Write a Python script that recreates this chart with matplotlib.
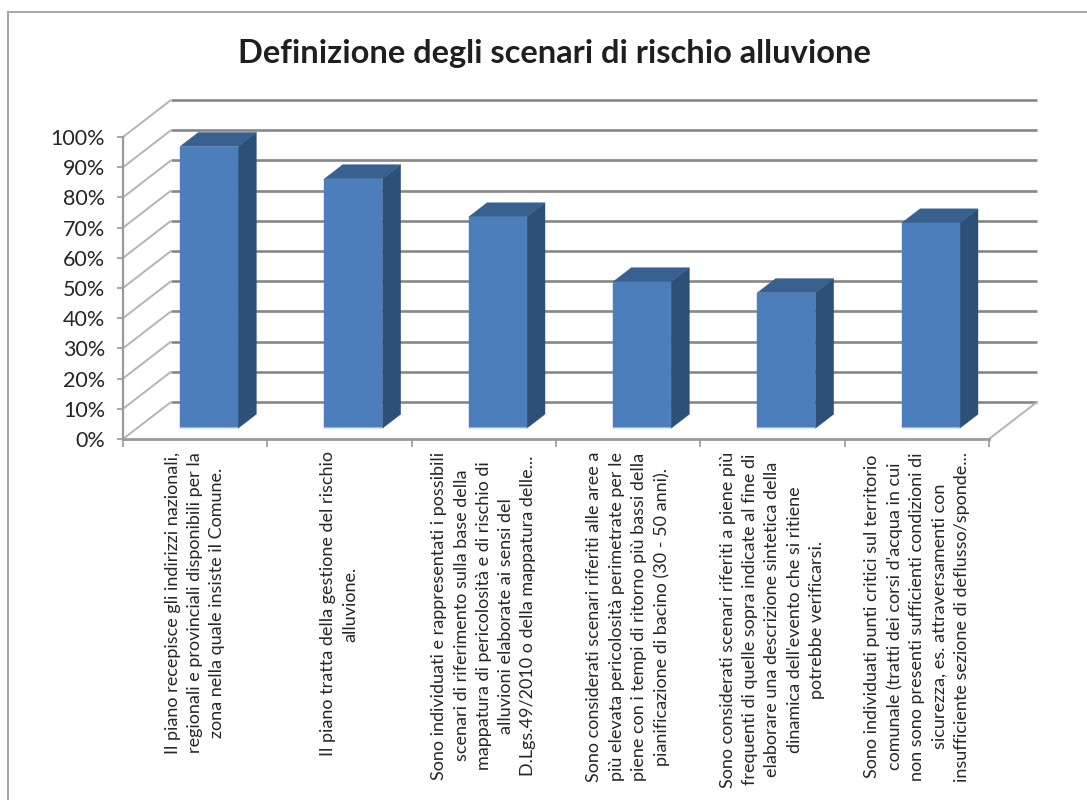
import matplotlib
matplotlib.use("Agg")
import matplotlib.pyplot as plt
from matplotlib.lines import Line2D
from matplotlib.patches import Polygon

plt.rcParams['font.family'] = ['Lato', 'DejaVu Sans']

TITLE = "Definizione degli scenari di rischio alluvione"
categories = [
    "Il piano recepisce gli indirizzi nazionali,\nregionali e provinciali disponibili per la\nzona nella quale insiste il Comune.",
    "Il piano tratta della gestione del rischio\nalluvione.",
    "Sono individuati e rappresentati i possibili\nscenari di riferimento sulla base della\nmappatura di pericolosità e di rischio di\nalluvioni elaborate ai sensi del\nD.Lgs.49/2010 o della mappatura delle...",
    "Sono considerati scenari riferiti alle aree a\npiù elevata pericolosità perimetrate per le\npiene con i tempi di ritorno più bassi della\npianificazione di bacino (30 - 50 anni).",
    "Sono considerati scenari riferiti a piene più\nfrequenti di quelle sopra indicate al fine di\nelaborare una descrizione sintetica della\ndinamica dell'evento che si ritiene\npotrebbe verificarsi.",
    "Sono individuati punti critici sul territorio\ncomunale (tratti dei corsi d'acqua in cui\nnon sono presenti sufficienti condizioni di\nsicurezza, es. attraversamenti con\ninsufficiente sezione di deflusso/sponde...",
]
values = [0.933, 0.826, 0.70, 0.485, 0.449, 0.68]
y_ticks = [0.0, 0.1, 0.2, 0.3, 0.4, 0.5, 0.6, 0.7, 0.8, 0.9, 1.0]
y_tick_labels = ["0%", "10%", "20%", "30%", "40%", "50%", "60%", "70%", "80%", "90%", "100%"]

W, H = 1087, 800
fig = plt.figure(figsize=(W / 100, H / 100), dpi=100, facecolor="white")
ax = fig.add_axes([123 / W, (H - 439) / H, 866 / W, 302 / H])
ax.set_xlim(0, len(categories))
ax.set_ylim(0, 1)
ax.patch.set_visible(False)
for s in ax.spines.values():
    s.set_visible(False)

# Oblique depth projection, expressed in data units per unit of depth
DX, DY = 48 / (866 / 6), 37 / 302


def proj(x, v, d):
    return x + d * DX, v + d * DY


GRID = "#878787"
AXIS = "#9a9a9a"
n = len(categories)

# back wall and side wall gridlines
for t in y_ticks:
    x0, y0 = proj(0, t, 0)
    x1, y1 = proj(0, t, 1)
    x2, y2 = proj(n, t, 1)
    ax.plot([x0, x1], [y0, y1], color="#b4b4b4", lw=1.4, clip_on=False, zorder=1, solid_capstyle="butt")
    ax.plot([x1, x2], [y1, y2], color=GRID, lw=1.9, clip_on=False, zorder=1, solid_capstyle="butt")

# floor right edge
x0, y0 = proj(n, 0, 0)
x1, y1 = proj(n, 0, 1)
ax.plot([x0, x1], [y0, y1], color="#b4b4b4", lw=1.4, clip_on=False, zorder=1)

# front axes
ax.plot([0, 0], [0, 1], color=AXIS, lw=1.6, clip_on=False, zorder=2)
ax.plot([0, n], [0, 0], color=AXIS, lw=2.0, clip_on=False, zorder=2)

# bars
D0, D1 = 0.29, 0.67
BAR_W = 58 / (866 / 6)
FACE, SIDE, TOP, BASE = "#4C7EBB", "#2D5079", "#38618F", "#9DB8DA"
for i, v in enumerate(values):
    left = i + 0.5 - BAR_W / 2
    right = i + 0.5 + BAR_W / 2
    front = [proj(left, 0, D0), proj(right, 0, D0), proj(right, v, D0), proj(left, v, D0)]
    side = [proj(right, 0, D0), proj(right, 0, D1), proj(right, v, D1), proj(right, v, D0)]
    top = [proj(left, v, D0), proj(right, v, D0), proj(right, v, D1), proj(left, v, D1)]
    base = [proj(left, 0, D0), proj(right, 0, D0), proj(right, 0.004, D0), proj(left, 0.004, D0)]
    ax.add_patch(Polygon(side, closed=True, fc=SIDE, ec=SIDE, lw=0.3, zorder=3, clip_on=False))
    ax.add_patch(Polygon(top, closed=True, fc=TOP, ec=TOP, lw=0.3, zorder=3, clip_on=False))
    ax.add_patch(Polygon(front, closed=True, fc=FACE, ec=FACE, lw=0.3, zorder=4, clip_on=False))
    ax.add_patch(Polygon(base, closed=True, fc=BASE, ec=BASE, lw=0, zorder=5, clip_on=False))

# ticks
ax.set_yticks(y_ticks)
ax.set_yticklabels(y_tick_labels, fontsize=15.5, color="#262626")
ax.tick_params(axis="y", length=4, width=1.2, color=AXIS, pad=9)
ax.set_xticks(range(n + 1))
ax.set_xticklabels([])
ax.tick_params(axis="x", which="major", length=6, width=1.2, color=AXIS)
ax.set_xticks([i + 0.5 for i in range(n)], minor=True)
ax.set_xticklabels(categories, minor=True, rotation=90, fontsize=13.0, color="#262626",
                   ha="center", va="top", multialignment="center", linespacing=1.48)
ax.tick_params(axis="x", which="minor", length=0, pad=9)

fig.text(554 / W, 1 - 53 / H, TITLE, fontsize=23.5, fontweight="bold", color="#1f1f1f",
         ha="center", va="center")

# chart border, cropped by the image on the right and bottom
fig.add_artist(Line2D([8 / W, 8 / W], [0, 1 - 12 / H], color="#a6a6a6", lw=1.4))
fig.add_artist(Line2D([8 / W, 1], [1 - 12 / H, 1 - 12 / H], color="#a6a6a6", lw=1.4))

fig.savefig("out.png", dpi=100)
